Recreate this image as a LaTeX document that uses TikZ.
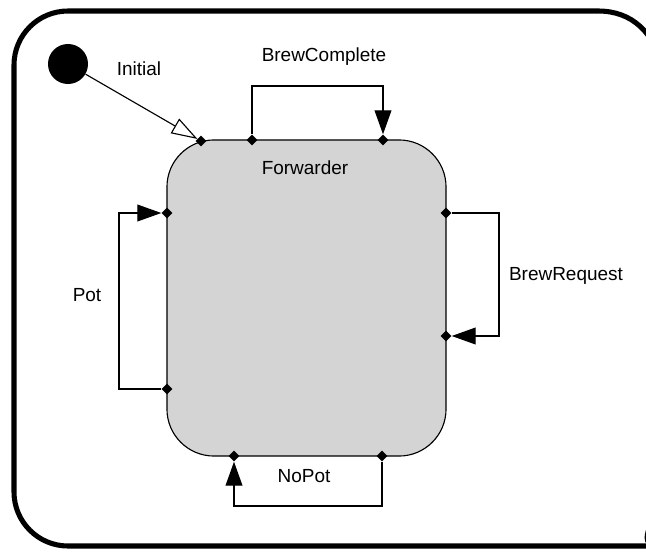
\documentclass[tikz,border=0pt]{standalone}
\usepackage{fontspec}
\setmainfont{Liberation Sans}
\usepackage{tikz}
\usetikzlibrary{arrows.meta,shapes.geometric}
\definecolor{stategray}{RGB}{212,212,212}

\begin{document}
\begin{tikzpicture}[
		x=0.025cm, y=-0.025cm,
		frame/.style={line width=3.6pt},
		state/.style={rectangle, draw, line width=0.8pt, fill=stategray, rounded corners=1.175cm, minimum width=6.975cm, minimum height=7.9cm},
		start/.style={circle, fill=black, minimum size=1cm, inner sep=0pt},
		dot/.style={diamond, fill=black, inner sep=0pt, minimum size=0.27cm},
		lbl/.style={font=\fontsize{13.5}{16}\selectfont, inner sep=0pt},
		trans/.style={-{Triangle[length=0.6cm, width=0.42cm]}, line width=0.9pt},
		initarrow/.style={-{Triangle[open, length=0.65cm, width=0.42cm]}, line width=0.8pt}
	]
		\useasboundingbox (0,0) rectangle (646,553);
		\clip (0,0) rectangle (646,553);
		
		% Outer frame
		\draw[frame] (664,70) .. controls (654,32) and (632,11) .. (598,11)
			{[rounded corners=1.35cm] -- (14,11) -- (14,546) -- (608,546)}
			.. controls (634,546) and (652,528) .. (664,488);
		
		% State
		\node[state] (fwd) at (306.5,298) {};
		\node[lbl] (fwdname) at (305,168) {Forwarder};
		
		% Initial
		\node[start] (init) at (68,64) {};
		
		% Ports
		\node[dot] (dinit) at (201,141) {};
		\node[dot] (bc1) at (252,140) {};
		\node[dot] (bc2) at (383,140) {};
		\node[dot] (pot1) at (167,213) {};
		\node[dot] (pot2) at (167,389) {};
		\node[dot] (br1) at (446,213) {};
		\node[dot] (br2) at (446,336) {};
		\node[dot] (np1) at (234,456) {};
		\node[dot] (np2) at (382,456) {};
		
		% Transitions
		\draw[initarrow] (init) -- (dinit);
		\draw[trans] (bc1) -- ++(0,-54) -| (bc2);
		\draw[trans] (pot2) -- ++(-48,0) |- (pot1);
		\draw[trans] (br1) -- ++(53,0) |- (br2);
		\draw[trans] (np2) -- ++(0,50) -| (np1);
		
		% Labels
		\node[lbl] (linit) at (139,69) {Initial};
		\node[lbl] (lbc) at (324,57) {BrewComplete};
		\node[lbl] (lpot) at (87,295) {Pot};
		\node[lbl] (lbr) at (566,276) {BrewRequest};
		\node[lbl] (lnp) at (304,476) {NoPot};
	\end{tikzpicture}
\end{document}
